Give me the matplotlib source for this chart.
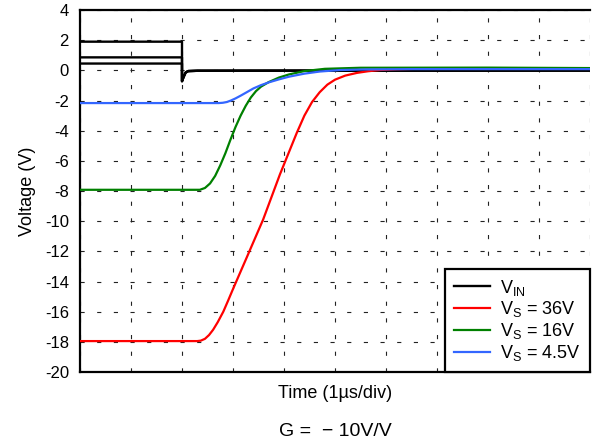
import matplotlib
matplotlib.use("Agg")
import matplotlib.pyplot as plt

plt.rcParams['font.family'] = ['Liberation Sans', 'DejaVu Sans']
plt.rcParams['mathtext.fontset'] = 'custom'
plt.rcParams['mathtext.rm'] = 'Liberation Sans'
plt.rcParams['mathtext.it'] = 'Liberation Sans'
plt.rcParams['lines.scale_dashes'] = False

# ---- data (time in divisions of 1us, voltage in V) ----
vin_t = [0, 2.0, 2.0, 2.03, 2.07, 2.12, 2.3, 10]
vin_tail = [-0.72, -0.45, -0.15, -0.05, -0.03, -0.01]
vin_levels = [1.9, 0.86, 0.45]

red_t = [0, 2.3, 2.37, 2.45, 2.53, 2.61, 2.7, 2.81, 2.9, 3.0, 3.27, 3.59, 3.92, 4.25,
         4.4, 4.55, 4.7, 4.85, 5.0, 5.2, 5.43, 5.65, 5.88, 6.2, 6.6, 7.5, 10]
red_v = [-17.95, -17.95, -17.92, -17.8, -17.55, -17.2, -16.7, -16.0, -15.3, -14.5, -12.4, -9.9,
         -6.9, -4.15, -3.0, -2.1, -1.45, -0.95, -0.62, -0.35, -0.17, -0.06, 0.02, 0.07, 0.1, 0.12, 0.1]

green_t = [0, 2.35, 2.45, 2.55, 2.65, 2.75, 2.85, 2.95, 3.05, 3.15, 3.25, 3.35, 3.45, 3.55,
           3.7, 3.9, 4.1, 4.4, 4.8, 5.5, 8.0, 10]
green_v = [-7.92, -7.92, -7.8, -7.5, -7.0, -6.3, -5.5, -4.6, -3.75, -3.0, -2.35, -1.8, -1.38,
           -1.08, -0.78, -0.48, -0.27, -0.05, 0.1, 0.17, 0.18, 0.15]

blue_t = [0, 2.72, 2.8, 2.88, 2.96, 3.05, 3.15, 3.27, 3.4, 3.55, 3.7, 3.9, 4.1, 4.4, 4.7,
          5.1, 5.6, 6.5, 10]
blue_v = [-2.17, -2.17, -2.15, -2.1, -2.0, -1.86, -1.68, -1.45, -1.2, -0.98, -0.8, -0.6,
          -0.42, -0.22, -0.08, 0.02, 0.06, 0.08, 0.08]

labels = [r'V$_{\mathregular{IN}}$', r'V$_{\mathregular{S}}$ = 36V',
          r'V$_{\mathregular{S}}$ = 16V', r'V$_{\mathregular{S}}$ = 4.5V']
colors = ['black', '#ff0000', '#008000', '#3366ff']
yticks = list(range(-20, 5, 2))

fig = plt.figure(figsize=(5.92, 4.45), dpi=100)
ax = fig.add_axes([80/592, 73/445, 510/592, 362/445])

handles = []
for i, lv in enumerate(vin_levels):
    h, = ax.plot(vin_t, [lv, lv] + vin_tail, color=colors[0], lw=1.7, zorder=3)
    if i == 0:
        handles.append(h)
for t, v, c in [(red_t, red_v, colors[1]), (green_t, green_v, colors[2]), (blue_t, blue_v, colors[3])]:
    h, = ax.plot(t, v, color=c, lw=1.6, zorder=4)
    handles.append(h)

ax.set_xlim(0, 10)
ax.set_ylim(-20, 4)
ax.set_xticks(range(0, 11))
ax.set_xticklabels([])
ax.set_yticks(yticks)
ax.set_yticklabels([str(y) for y in yticks], fontsize=12)
ax.tick_params(direction='in', length=0, pad=8)
ax.grid(True, color='#222222', lw=0.8, linestyle=(0, (3, 9)))
for s in ['left', 'bottom', 'top']:
    ax.spines[s].set_linewidth(1.6)
ax.spines['right'].set_visible(False)

ax.set_ylabel('Voltage (V)', fontsize=13, labelpad=6)
fig.text(335/592, 1 - 393/445, 'Time (1µs/div)', fontsize=13, ha='center', va='center')
fig.text(335/592, 1 - 431/445, 'G =  \u2212 10V/V', fontsize=14, ha='center', va='center')

leg = ax.legend(handles, labels, loc='lower right', fontsize=13, frameon=True,
                fancybox=False, framealpha=1, edgecolor='black', borderaxespad=0,
                handlelength=2.0, handletextpad=0.55, labelspacing=0.1, borderpad=0.5)
leg.get_frame().set_linewidth(1.6)
leg.set_zorder(10)

fig.savefig('out.png', dpi=100)
